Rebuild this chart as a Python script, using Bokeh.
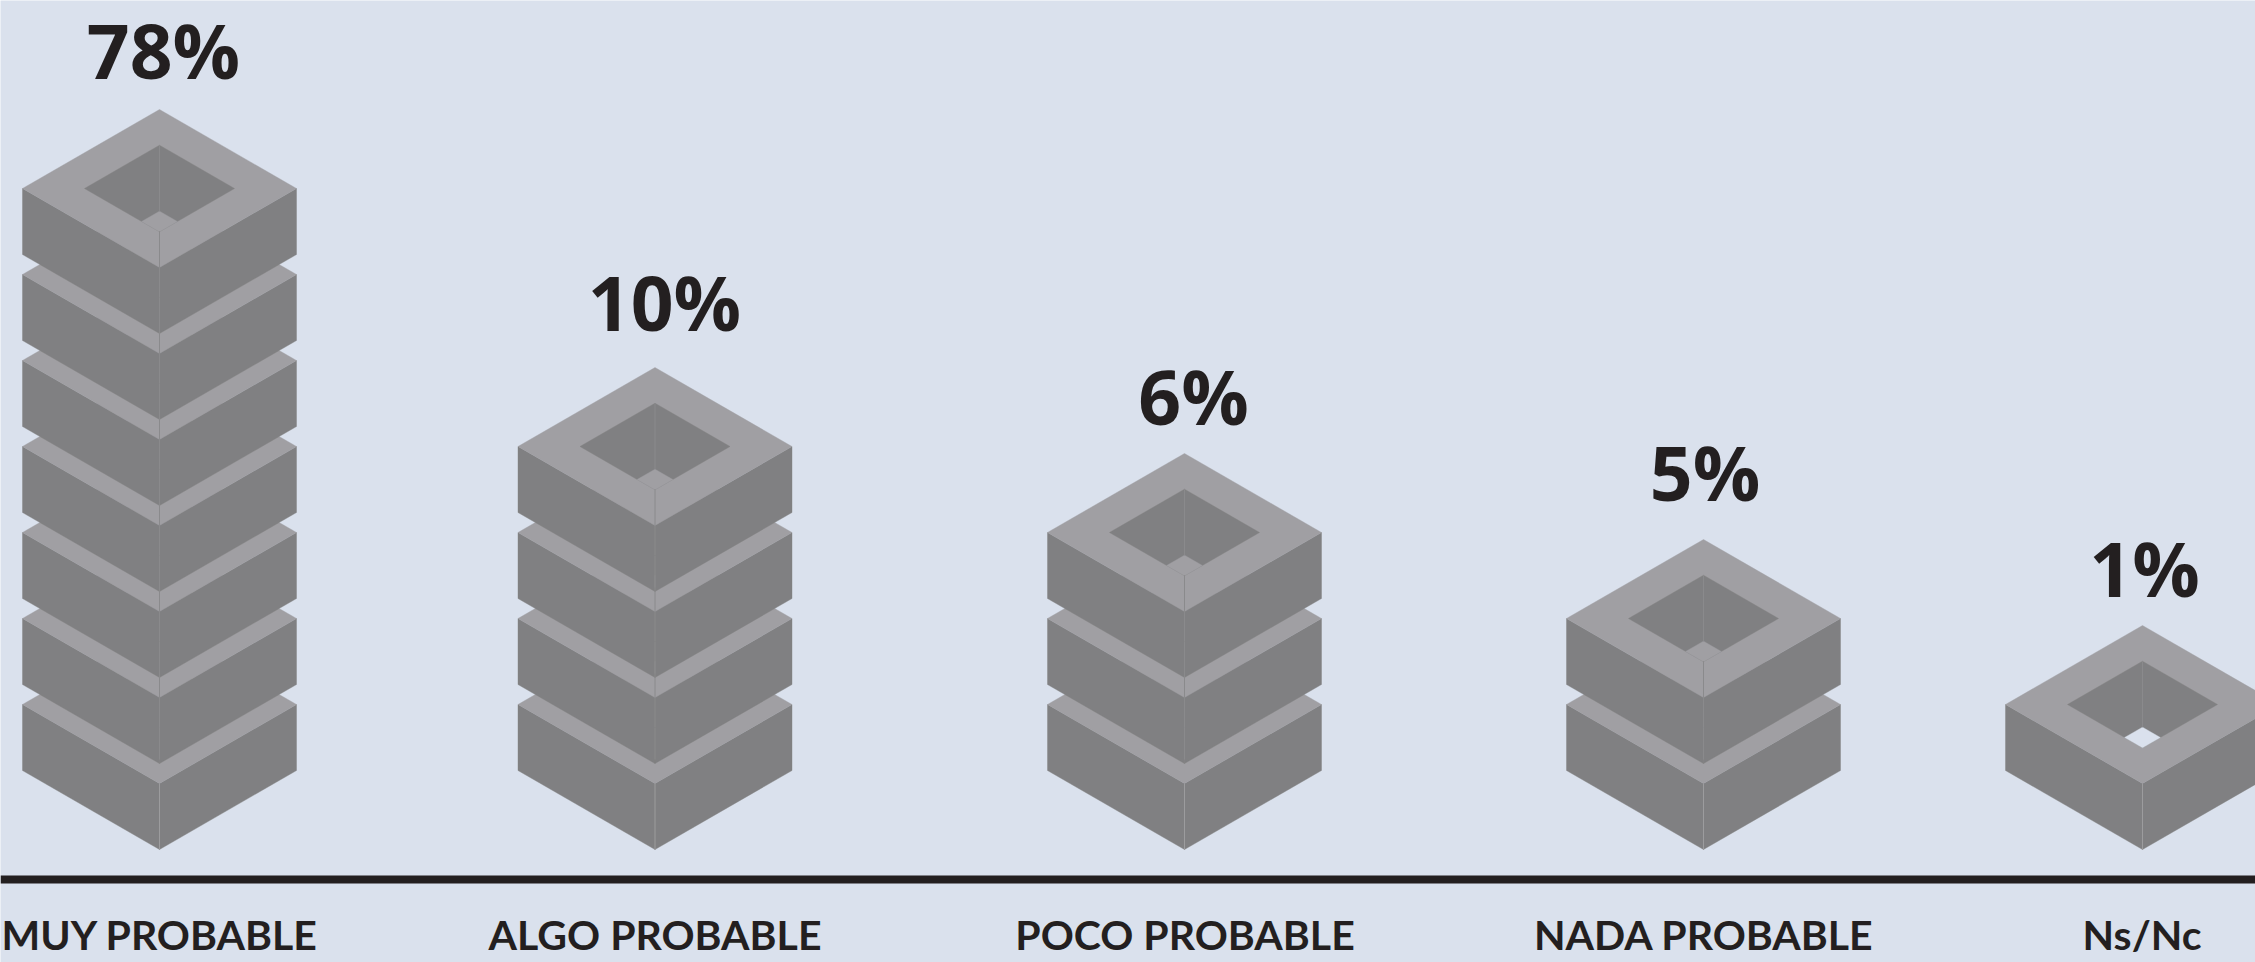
from bokeh.embed import file_html
from bokeh.resources import INLINE
from bokeh.plotting import figure
from bokeh.models import ColumnDataSource, Range1d
from bokeh.core.properties import value

# ---- chart data
categories = ["MUY PROBABLE", "ALGO PROBABLE", "POCO PROBABLE", "NADA PROBABLE", "Ns/Nc"]
percents = [78, 10, 6, 5, 1]
blocks = [7, 4, 3, 2, 1]

# ---- layout
centers = [159, 654.5, 1184, 1703, 2142]
label_x = [163, 664, 1193, 1704.5, 2144]
label_gap = [60, 66, 58, 68, 58]
cat_x = [159.5, 654.5, 1184.5, 1703.5, 2141.5]

BG, FACE, RING, INK = "#dae1ed", "#808082", "#a09fa3", "#231f20"
SEAM_BOTTOM, SEAM_FAINT = "#9c9c9e", "#8a8a8c"
W, D, H, PITCH = 137, 79, 66, 86        # half width, half depth, height, stack pitch
IW, ID = 75, 43.3                       # inner hole half width / half depth
BASE = 30                               # gap between axis and lowest tip
NW = (2 * ID - H) / 2 * IW / ID
ND = (2 * ID - H) / 2

xs, ys, colors = [], [], []
seam_x, seam_y, seam_c = [], [], []


def add(px, py, c):
    xs.append(px)
    ys.append(py)
    colors.append(c)


for cx, n in zip(centers, blocks):
    for k in range(n):
        c = BASE + D + H + k * PITCH        # height of the block's top side corners
        # outer faces
        add([cx - W, cx, cx, cx - W], [c, c - D, c - D - H, c - H], FACE)
        add([cx + W, cx, cx, cx + W], [c, c - D, c - D - H, c - H], FACE)
        # top ring
        add([cx - W, cx, cx + W, cx], [c, c + D, c, c - D], RING)
        # inner well
        add([cx - IW, cx, cx + IW, cx], [c, c + ID, c, c - ID], FACE)
        # what is seen through the hole
        add([cx - NW, cx, cx + NW, cx],
            [c - ID + ND, c - ID + 2 * ND, c - ID + ND, c - ID],
            RING if k > 0 else BG)
        # seams
        seam_x.append([cx, cx])
        seam_y.append([c + ID, c - ID + 2 * ND])
        seam_c.append(SEAM_FAINT)
        seam_x.append([cx, cx])
        if k == 0:
            seam_y.append([c - D, c - D - H])
            seam_c.append(SEAM_BOTTOM)
        else:
            seam_y.append([c - D - 30, c - D - 62])
            seam_c.append(SEAM_FAINT)

p = figure(width=2255, height=962, output_backend="svg", toolbar_location=None,
           x_range=Range1d(0, 2255), y_range=Range1d(-83, 879),
           y_axis_location=None, x_axis_location=None,
           background_fill_color=BG, border_fill_color=BG,
           min_border_left=0, min_border_right=0, min_border_top=0, min_border_bottom=0)
p.outline_line_color = None
p.grid.visible = False

p.patches(xs, ys, fill_color=colors, line_color=colors, line_width=0.4)
p.multi_line(seam_x, seam_y, line_color=seam_c, line_width=1)
p.hspan(y=[0], line_color=INK, line_width=8)

tops = [BASE + D + H + (n - 1) * PITCH + D for n in blocks]
src = ColumnDataSource(dict(x=label_x,
                            y=[t + g for t, g in zip(tops, label_gap)],
                            t=[f"{v}%" for v in percents]))
p.text("x", "y", text="t", source=src, text_align="center", text_baseline="middle",
       text_font=value("Open Sans"), text_font_style="bold", text_font_size="75px",
       text_color=INK)

cat_src = ColumnDataSource(dict(x=cat_x, y=[-55] * len(cat_x), t=categories))
p.text("x", "y", text="t", source=cat_src, text_align="center", text_baseline="middle",
       text_font=value("Lato"), text_font_style="bold", text_font_size="41px",
       text_color=INK)

open("out.html", "w").write(file_html(p, INLINE))
